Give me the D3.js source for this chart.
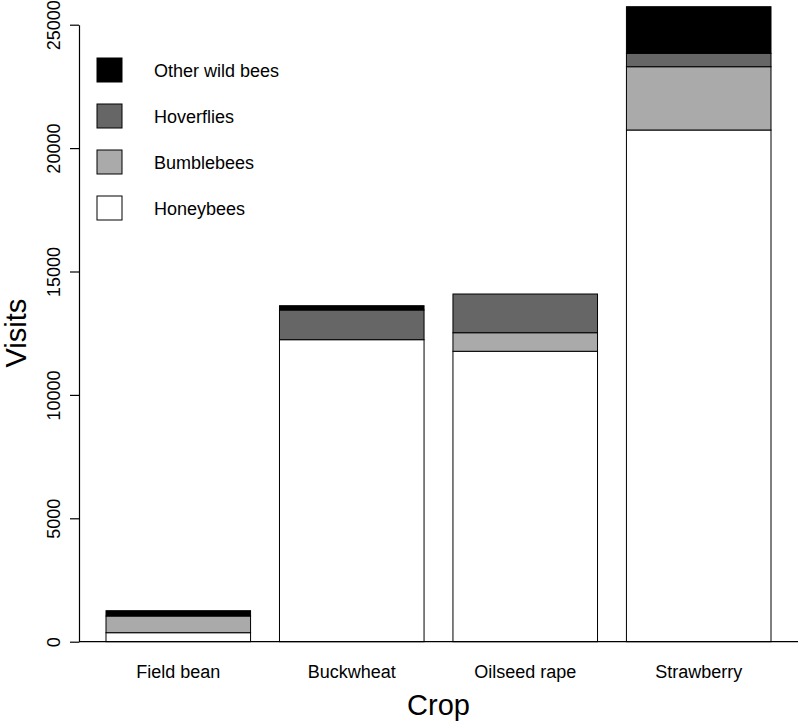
<!DOCTYPE html>
<html>
<head>
<meta charset="utf-8">
<script src="https://cdn.jsdelivr.net/npm/d3@7"></script>
<style>
  html, body { margin: 0; padding: 0; background: #fff; }
  svg { display: block; font-family: "Liberation Sans", Arial, Helvetica, sans-serif; }
</style>
</head>
<body>
<svg id="chart" width="798" height="722"></svg>
<script>
// ---- data ----
const crops = ["Field bean", "Buckwheat", "Oilseed rape", "Strawberry"];
const groups = ["Honeybees", "Bumblebees", "Hoverflies", "Other wild bees"];
const honeybees = [365, 12237, 11767, 20733];
const bumblebees = [676, 0, 753, 2565];
const hoverflies = [0, 1203, 1568, 543];
const otherWildBees = [215, 174, 0, 1888];
const yTicks = [0, 5000, 10000, 15000, 20000, 25000];
const groupColors = ["#ffffff", "#aaaaaa", "#666666", "#000000"];

// ---- layout ----
const svg = d3.select("#chart");
const x0 = 106, x1 = 771, yBase = 641.7, yTop = 24.7, axisX = 79;

const x = d3.scaleBand().domain(crops).range([x0, x1]).paddingInner(0.2 / 1.2).paddingOuter(0);
const y = d3.scaleLinear().domain([0, 25000]).range([yBase, yTop]);
const color = d3.scaleOrdinal().domain(groups).range(groupColors);

const table = crops.map((c, i) => ({
  crop: c,
  "Honeybees": honeybees[i],
  "Bumblebees": bumblebees[i],
  "Hoverflies": hoverflies[i],
  "Other wild bees": otherWildBees[i]
}));
const stacked = d3.stack().keys(groups)(table);

// bars
svg.append("g").selectAll("g").data(stacked).join("g")
  .attr("fill", d => color(d.key))
  .selectAll("rect").data(d => d).join("rect")
  .attr("x", d => x(d.data.crop))
  .attr("width", x.bandwidth())
  .attr("y", d => y(d[1]))
  .attr("height", d => y(d[0]) - y(d[1]))
  .attr("stroke", "#000")
  .attr("stroke-width", 1);

// x axis baseline
svg.append("line")
  .attr("x1", axisX).attr("x2", 798)
  .attr("y1", yBase).attr("y2", yBase)
  .attr("stroke", "#000").attr("stroke-width", 1.2);

// y axis
const yAxis = d3.axisLeft(y).tickValues(yTicks).tickSize(9).tickSizeOuter(0).tickFormat(d3.format("d"));
const gy = svg.append("g").attr("transform", `translate(${axisX},0)`).call(yAxis);
gy.select(".domain").attr("stroke", "#000").attr("stroke-width", 1.2);
gy.selectAll(".tick line").attr("stroke", "#000").attr("stroke-width", 1.2);
gy.selectAll(".tick text")
  .attr("font-size", 18)
  .attr("font-family", "Liberation Sans, Arial, Helvetica, sans-serif")
  .attr("fill", "#000")
  .attr("x", null).attr("dy", null)
  .attr("text-anchor", "middle")
  .attr("transform", "translate(-19,0) rotate(-90)");

// x tick labels
svg.append("g").selectAll("text").data(crops).join("text")
  .attr("x", d => x(d) + x.bandwidth() / 2)
  .attr("y", 678)
  .attr("text-anchor", "middle")
  .attr("font-size", 18)
  .text(d => d);

// axis titles
svg.append("text")
  .attr("x", (axisX + 798) / 2).attr("y", 715)
  .attr("text-anchor", "middle").attr("font-size", 29)
  .text("Crop");
svg.append("text")
  .attr("transform", `translate(26,${(yBase + yTop) / 2}) rotate(-90)`)
  .attr("text-anchor", "middle").attr("font-size", 29)
  .text("Visits");

// legend
const legendOrder = groups.slice().reverse();
const lg = svg.append("g").selectAll("g").data(legendOrder).join("g")
  .attr("transform", (d, i) => `translate(97,${70 + i * 46})`);
lg.append("rect")
  .attr("x", 0).attr("y", -12).attr("width", 25).attr("height", 24)
  .attr("fill", d => color(d)).attr("stroke", "#000").attr("stroke-width", 1);
lg.append("text")
  .attr("x", 57).attr("y", 6.5)
  .attr("font-size", 18)
  .text(d => d);
</script>
</body>
</html>
